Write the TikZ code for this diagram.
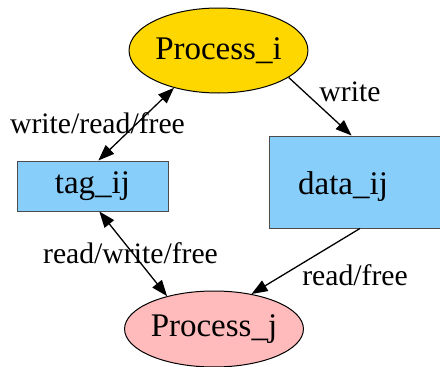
\documentclass[tikz,border=0pt]{standalone}
\usepackage{fontspec}
\setmainfont{Liberation Serif}
\usetikzlibrary{shapes.geometric,arrows.meta}
\definecolor{procgold}{RGB}{255, 215, 0}
\definecolor{procpink}{RGB}{255, 187, 187}
\definecolor{bufblue}{RGB}{135, 206, 250}
\tikzstyle{proc} = [
  ellipse,
  draw=black,
  inner sep=0pt,
  font=\fontsize{33}{36}\selectfont,
]
\tikzstyle{buf} = [
  rectangle,
  draw=black!70,
  fill=bufblue,
  inner sep=0pt,
  font=\fontsize{33}{36}\selectfont,
]
\tikzstyle{access} = [
  line width=1.3pt,
  -{Triangle[length=16pt,width=12pt]},
]
\tikzstyle{both} = [
  {Triangle[length=16pt,width=12pt]}-{Triangle[length=16pt,width=12pt]},
]
\tikzstyle{lbl} = [
  anchor=base,
  inner sep=0pt,
  font=\fontsize{29.7}{32}\selectfont,
]

\begin{document}
\begin{tikzpicture}[x=1pt, y=-1pt, line width=1pt]
            \useasboundingbox (0,0) rectangle (440,367);

            % Processes
            \node[proc, fill=procgold, minimum width=161pt, minimum height=85pt] (pi) at (218.5,50.5) {Process\_i};
            \node[proc, fill=procpink, minimum width=162pt, minimum height=76pt] (pj) at (214,329) {Process\_j};

            % Shared buffers (data runs off the right edge)
            \node[buf, minimum width=151pt, minimum height=50pt] (tag) at (92.5,186) {tag\_ij};
            \node[buf, minimum width=190pt, minimum height=92pt, text height=31pt, text depth=7pt]
              (data) at (364,182) {data\_ij\hspace*{42pt}};

            % Accesses
            \draw[access] (pi.-21) -- (data.105);
            \draw[access, both] (tag.77) -- (pi.-140);
            \draw[access, both] (tag.-75) -- (pj.145);
            \draw[access] (data.-95) -- (pj.43);

            % Labels
            \node[lbl] (lwrite) at (350,101.5) {write};
            \node[lbl] (ltagi) at (97.5,133.3) {write/read/free};
            \node[lbl] (ltagj) at (130.5,263) {read/write/free};
            \node[lbl] (ldata) at (355,285) {read/free};
          \end{tikzpicture}
\end{document}
